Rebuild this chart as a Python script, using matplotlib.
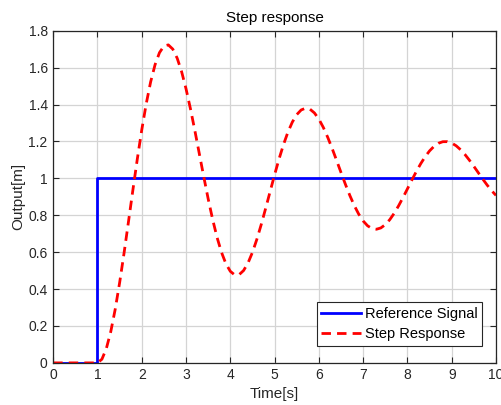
import numpy as np
import matplotlib
matplotlib.use('Agg')
import matplotlib.pyplot as plt

plt.rcParams['font.family'] = ['Liberation Sans', 'DejaVu Sans']

# reference step: 0 before t=1, 1 afterwards
ref_t = [0, 1, 1, 10]
ref_y = [0, 0, 1, 1]

resp_y = [0.0000, 0.0199, 0.0777, 0.1695, 0.2904, 0.4345, 0.5951, 0.7653, 0.9379, 1.1060,
          1.2631, 1.4036, 1.5225, 1.6159, 1.6814, 1.7173, 1.7235, 1.7008, 1.6514, 1.5783,
          1.4853, 1.3768, 1.2579, 1.1335, 1.0089, 0.8889, 0.7782, 0.6806, 0.5996, 0.5376,
          0.4963, 0.4766, 0.4783, 0.5007, 0.5417, 0.5992, 0.6703, 0.7514, 0.8392, 0.9297,
          1.0194, 1.1047, 1.1825, 1.2500, 1.3048, 1.3455, 1.3708, 1.3805, 1.3749, 1.3546,
          1.3212, 1.2764, 1.2225, 1.1620, 1.0975, 1.0318, 0.9674, 0.9070, 0.8526, 0.8062,
          0.7693, 0.7431, 0.7280, 0.7243, 0.7315, 0.7492, 0.7759, 0.8105, 0.8511, 0.8961,
          0.9432, 0.9908, 1.0368, 1.0795, 1.1173, 1.1490, 1.1735, 1.1902, 1.1988, 1.1991,
          1.1915, 1.1768, 1.1555, 1.1291, 1.0986, 1.0654, 1.0310, 0.9968, 0.9640, 0.9340,
          0.9078]
resp_t = np.concatenate([[0.0], 1 + 0.1 * np.arange(len(resp_y))])
resp_y = np.concatenate([[0.0], resp_y])

xticks = np.arange(0, 11, 1)
yticks = np.arange(0, 1.81, 0.2)
ytick_labels = ['0', '0.2', '0.4', '0.6', '0.8', '1', '1.2', '1.4', '1.6', '1.8']

fig = plt.figure(figsize=(5.02, 4.05), dpi=100)
ax = fig.add_axes([0.106, 0.104, 0.882, 0.82])

ax.plot(ref_t, ref_y, color='#0000ff', lw=2.0, label='Reference Signal')
ax.plot(resp_t, resp_y, color='#ff0000', lw=2.0, ls=(0, (3.4, 2.2)), label='Step Response')

ax.set_xlim(0, 10)
ax.set_ylim(0, 1.8)
ax.set_xticks(xticks)
ax.set_yticks(yticks)
ax.set_yticklabels(ytick_labels)
ax.tick_params(direction='in', top=True, right=True, labelsize=10, colors='#262626',
               length=4, width=0.8, pad=4)
ax.grid(True, color='#d4d4d4', lw=0.9)
ax.set_axisbelow(True)
for s in ax.spines.values():
    s.set_color('#262626')
    s.set_linewidth(0.9)

ax.set_title('Step response', fontsize=11, color='black', pad=6)
ax.set_xlabel('Time[s]', fontsize=11, color='#262626', labelpad=3)
ax.set_ylabel('Output[m]', fontsize=11, color='#262626', labelpad=2)

leg = ax.legend(loc='lower right', fontsize=10.5, frameon=True, fancybox=False,
                edgecolor='#262626', framealpha=1, handlelength=2.7,
                borderpad=0.3, labelspacing=0.45, handletextpad=0.3,
                bbox_to_anchor=(0.985, 0.03))
leg.get_frame().set_linewidth(0.8)

fig.savefig('out.png', dpi=100)
